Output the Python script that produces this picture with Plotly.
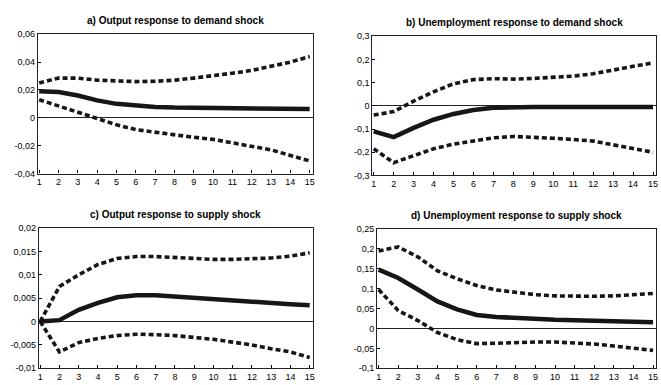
import plotly.graph_objects as go

periods = list(range(1, 16))

# a) Output response to demand shock
a_mid = [0.019, 0.0185, 0.016, 0.0125, 0.010, 0.0085, 0.0078, 0.0073, 0.0071, 0.0070, 0.0068, 0.0066, 0.0065, 0.0064, 0.0063]
a_up = [0.025, 0.0285, 0.0285, 0.027, 0.0265, 0.026, 0.0262, 0.027, 0.0285, 0.030, 0.032, 0.034, 0.037, 0.040, 0.044]
a_lo = [0.013, 0.0085, 0.004, -0.001, -0.005, -0.0085, -0.0105, -0.012, -0.014, -0.0155, -0.018, -0.020, -0.023, -0.027, -0.031]

# b) Unemployment response to demand shock
b_mid = [-0.11, -0.135, -0.095, -0.06, -0.035, -0.018, -0.008, -0.005, -0.005, -0.005, -0.005, -0.005, -0.005, -0.005, -0.005]
b_up = [-0.04, -0.025, 0.02, 0.06, 0.095, 0.113, 0.117, 0.115, 0.118, 0.124, 0.128, 0.138, 0.155, 0.170, 0.185]
b_lo = [-0.185, -0.245, -0.215, -0.185, -0.165, -0.150, -0.138, -0.132, -0.135, -0.140, -0.145, -0.152, -0.168, -0.185, -0.200]

# c) Output response to supply shock
c_mid = [0.0, 0.0003, 0.0025, 0.004, 0.0052, 0.0056, 0.0056, 0.0053, 0.0050, 0.0047, 0.0045, 0.0042, 0.0039, 0.0037, 0.0035]
c_up = [0.0, 0.0075, 0.010, 0.0122, 0.0135, 0.0139, 0.0139, 0.0137, 0.0135, 0.0133, 0.0133, 0.0134, 0.0136, 0.0140, 0.0147]
c_lo = [0.0, -0.0065, -0.0045, -0.0036, -0.0030, -0.0027, -0.0028, -0.0030, -0.0034, -0.0038, -0.0044, -0.0050, -0.0058, -0.0065, -0.0077]

# d) Unemployment response to supply shock
d_mid = [0.148, 0.127, 0.098, 0.068, 0.048, 0.034, 0.029, 0.026, 0.023, 0.022, 0.021, 0.020, 0.018, 0.017, 0.016]
d_up = [0.195, 0.205, 0.180, 0.145, 0.125, 0.108, 0.097, 0.090, 0.085, 0.082, 0.081, 0.081, 0.082, 0.085, 0.088]
d_lo = [0.098, 0.045, 0.020, -0.010, -0.028, -0.038, -0.037, -0.035, -0.034, -0.034, -0.036, -0.039, -0.044, -0.050, -0.055]

titles = [
    "a) Output response to demand shock",
    "b) Unemployment response to demand shock",
    "c) Output response to supply shock",
    "d) Unemployment response to supply shock",
]

a_ticks = [0.06, 0.04, 0.02, 0, -0.02, -0.04]
a_labels = ["0,06", "0,04", "0,02", "0", "-0,02", "-0,04"]
b_ticks = [0.3, 0.2, 0.1, 0, -0.1, -0.2, -0.3]
b_labels = ["0,3", "0,2", "0,1", "0", "-0,1", "-0,2", "-0,3"]
c_ticks = [0.02, 0.015, 0.01, 0.005, 0, -0.005, -0.01]
c_labels = ["0,02", "0,015", "0,01", "0,005", "0", "-0,005", "-0,01"]
d_ticks = [0.25, 0.2, 0.15, 0.1, 0.05, 0, -0.05, -0.1]
d_labels = ["0,25", "0,2", "0,15", "0,1", "0,05", "0", "-0,05", "-0,1"]

W, H = 661, 385

panels = [
    # (series, ticks, labels, yrange, x pixel span, y pixel span)
    ((a_mid, a_up, a_lo), a_ticks, a_labels, [-0.04, 0.06], (37, 313), (30, 173)),
    ((b_mid, b_up, b_lo), b_ticks, b_labels, [-0.3, 0.3], (373, 658), (32, 175)),
    ((c_mid, c_up, c_lo), c_ticks, c_labels, [-0.01, 0.02], (38, 313), (229, 373)),
    ((d_mid, d_up, d_lo), d_ticks, d_labels, [-0.1, 0.25], (378, 658), (230, 373)),
]

FONT = "Liberation Sans, Arial, sans-serif"
INK = "#161616"

fig = go.Figure()
layout = dict(
    width=W, height=H,
    margin=dict(l=0, r=0, t=0, b=0),
    paper_bgcolor="white", plot_bgcolor="white",
    showlegend=False,
    font=dict(family=FONT, size=9, color="black"),
)

annotations = []
for i, (series, ticks, labels, yr, (x0, x1), (y0, y1)) in enumerate(panels):
    n = "" if i == 0 else str(i + 1)
    xa, ya = "x" + n, "y" + n
    mid, up, lo = series
    for vals, dash, width in ((up, "5px,3px", 3.6), (lo, "5px,3px", 3.6), (mid, "solid", 4.5)):
        fig.add_trace(go.Scatter(
            x=periods, y=vals, xaxis=xa, yaxis=ya, mode="lines",
            line=dict(color=INK, width=width, dash=dash),
            hoverinfo="skip",
        ))
    layout["xaxis" + n] = dict(
        domain=[x0 / W, x1 / W], anchor=ya, range=[0.93, 15.15],
        tickvals=periods, ticktext=[str(p) for p in periods],
        ticks="inside", ticklen=3, tickcolor="black",
        showline=True, linecolor="#222", linewidth=1.2, mirror=True,
        showgrid=False, zeroline=False,
        tickfont=dict(family=FONT, size=9, color="black"),
    )
    layout["yaxis" + n] = dict(
        domain=[1 - y1 / H, 1 - y0 / H], anchor=xa, range=yr,
        tickvals=ticks, ticktext=labels,
        ticks="inside", ticklen=3, tickcolor="black",
        showline=True, linecolor="#222", linewidth=1.2, mirror=True,
        showgrid=False, zeroline=True, zerolinecolor="#222", zerolinewidth=1,
        tickfont=dict(family=FONT, size=9, color="black"),
    )
    annotations.append(dict(
        text="<b>" + titles[i] + "</b>", xref="paper", yref="paper",
        x=(x0 + x1) / 2 / W, y=1 - (y0 - 14) / H, showarrow=False,
        font=dict(family=FONT, size=10, color="black"),
        xanchor="center", yanchor="middle",
    ))

layout["annotations"] = annotations
fig.update_layout(**layout)
fig.write_html("out.html")
